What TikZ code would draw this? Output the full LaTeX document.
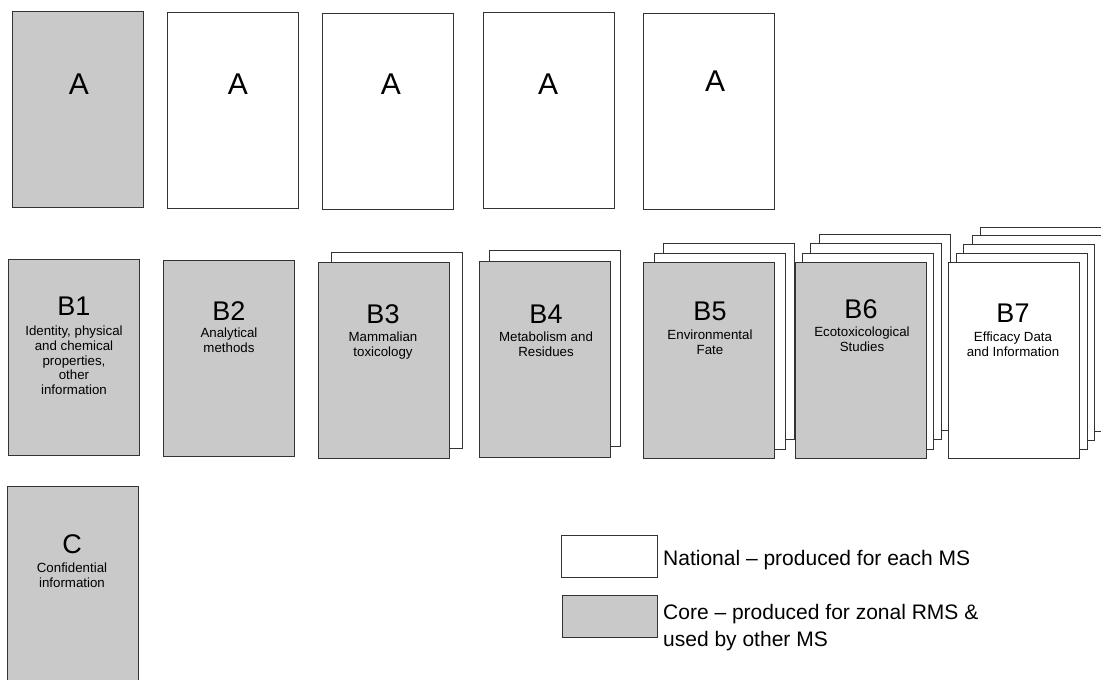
\documentclass[tikz,border=0pt]{standalone}
\usepackage{fontspec}
\setmainfont{Liberation Sans}
\definecolor{coregray}{gray}{0.79}
\definecolor{edge}{gray}{0.2}
\begin{document}
\begin{tikzpicture}[x=1pt,y=-1pt,
  page/.style={draw=edge,line width=1.1pt,rectangle,inner sep=0pt,minimum width=131pt,minimum height=196pt,anchor=north west},
  corebox/.style={page,fill=coregray},
  natbox/.style={page,fill=white},
  bigA/.style={anchor=base,inner sep=0pt,font=\fontsize{30}{30}\selectfont},
  blabel/.style={anchor=base,inner sep=0pt,font=\fontsize{27}{27}\selectfont},
  sub/.style={anchor=north,inner sep=0pt,align=center,font=\fontsize{13.3}{14.6}\selectfont},
  legtext/.style={anchor=north west,inner sep=0pt,align=left,font=\fontsize{21}{27}\selectfont}]
\useasboundingbox (0,0) rectangle (1101,680);
\clip (0,0) rectangle (1101,680);
% Row A
\node[corebox] (A1) at (12,11) {};
\node[natbox] (A2) at (167,12) {};
\node[natbox] (A3) at (322,13) {};
\node[natbox] (A4) at (483,12) {};
\node[natbox] (A5) at (643,13) {};
\node[bigA] (tA1) at (79,94) {A};
\node[bigA] (tA2) at (238,94) {A};
\node[bigA] (tA3) at (391,94) {A};
\node[bigA] (tA4) at (548,94) {A};
\node[bigA] (tA5) at (715,91) {A};
% Row B: back pages
\node[natbox] (B3b) at (331,252) {};
\node[natbox] (B4b) at (489,250) {};
\node[natbox] (B5c) at (663,243) {};
\node[natbox] (B5b) at (654,253) {};
\node[natbox] (B6d) at (819,234) {};
\node[natbox] (B6c) at (810,243) {};
\node[natbox] (B6b) at (802,253) {};
\node[natbox] (B7e) at (980,227) {};
\node[natbox] (B7d) at (972,235) {};
\node[natbox] (B7c) at (963,244) {};
\node[natbox] (B7b) at (956,253) {};
% Row B: front pages
\node[corebox] (B1) at (8,259) {};
\node[corebox] (B2) at (163,260) {};
\node[corebox] (B3) at (318,262) {};
\node[corebox] (B4) at (479,261) {};
\node[corebox] (B5) at (643,262) {};
\node[corebox] (B6) at (795,262) {};
\node[natbox] (B7) at (948,262) {};
% labels
\node[blabel] (tB1) at (74,315) {B1};
\node[blabel] (tB2) at (229,320) {B2};
\node[blabel] (tB3) at (383,323) {B3};
\node[blabel] (tB4) at (546,323) {B4};
\node[blabel] (tB5) at (710,320) {B5};
\node[blabel] (tB6) at (861,318) {B6};
\node[blabel] (tB7) at (1013,322) {B7};
\node[sub] (sB1) at (74,326) {Identity, physical\\and chemical\\properties,\\other\\information};
\node[sub] (sB2) at (229,328) {Analytical\\methods};
\node[sub] (sB3) at (383,332) {Mammalian\\toxicology};
\node[sub] (sB4) at (546,332) {Metabolism and\\Residues};
\node[sub] (sB5) at (710,330) {Environmental\\Fate};
\node[sub] (sB6) at (862,327) {Ecotoxicological\\Studies};
\node[sub] (sB7) at (1013,332) {Efficacy Data\\and Information};
% Row C
\node[corebox] (C) at (7,486) {};
\node[blabel] (tC) at (72,553) {C};
\node[sub] (sC) at (72,563) {Confidential\\information};
% Legend
\node[draw=edge,line width=1.1pt,fill=white,minimum width=96pt,minimum height=42pt,inner sep=0pt,anchor=north west] (LN) at (561,535) {};
\node[draw=edge,line width=1.1pt,fill=coregray,minimum width=95pt,minimum height=42pt,inner sep=0pt,anchor=north west] (LC) at (562,595) {};
\node[anchor=base west,inner sep=0pt,font=\fontsize{21}{27}\selectfont] (tLN) at (663,565) {National -- produced for each MS};
\node[legtext] (tLC) at (663,604) {Core -- produced for zonal RMS \&\\used by other MS};
\end{tikzpicture}
\end{document}
